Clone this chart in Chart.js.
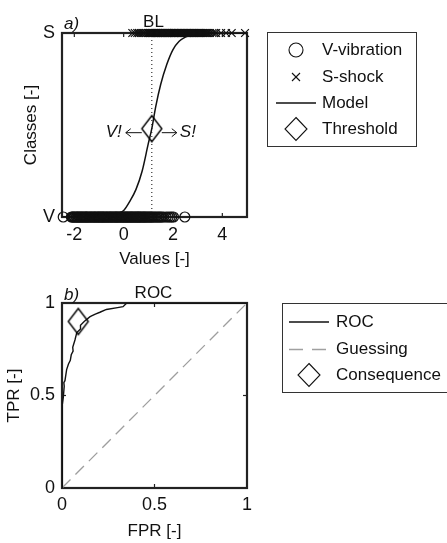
<!DOCTYPE html>
<html><head><meta charset="utf-8">
<script src="https://cdn.jsdelivr.net/npm/chart.js@4.4.1/dist/chart.umd.min.js"></script>
<style>
html,body{margin:0;padding:0;background:#fff;width:447px;height:543px;overflow:hidden}
canvas{position:absolute;left:0}
#c1{top:0}
#c2{top:275px}
</style></head><body>
<canvas id="c1" width="447" height="275"></canvas>
<canvas id="c2" width="447" height="268"></canvas>
<script>
// ---------- panel a) BL ----------
const blXTicks = [-2, 0, 2, 4];
const blYTicks = [0, 1];
const blYLabels = ['V', 'S'];
const vibrationX = [-2.45, -2.12, -2.08, -2.05, -2.01, -1.98, -1.93, -1.9, -1.87, -1.84, -1.8, -1.77, -1.73, -1.7, -1.66, -1.63, -1.59, -1.55, -1.52, -1.5, -1.46, -1.42, -1.38, -1.35, -1.31, -1.28, -1.24, -1.2, -1.17, -1.14, -1.1, -1.06, -1.03, -1.0, -0.96, -0.93, -0.9, -0.86, -0.83, -0.8, -0.76, -0.72, -0.69, -0.66, -0.62, -0.58, -0.55, -0.52, -0.48, -0.45, -0.41, -0.38, -0.34, -0.31, -0.28, -0.25, -0.21, -0.18, -0.14, -0.1, -0.07, -0.04, 0.0, 0.03, 0.07, 0.1, 0.13, 0.16, 0.2, 0.23, 0.27, 0.3, 0.33, 0.36, 0.4, 0.43, 0.47, 0.5, 0.54, 0.57, 0.6, 0.63, 0.67, 0.7, 0.74, 0.78, 0.81, 0.85, 0.88, 0.92, 0.96, 1.0, 1.04, 1.08, 1.12, 1.15, 1.2, 1.25, 1.3, 1.35, 1.4, 1.45, 1.5, 1.55, 1.62, 1.72, 1.8, 1.88, 1.95, 2.02, 2.48];
const shockX = [0.35, 0.45, 0.55, 0.62, 0.7, 0.78, 0.85, 0.92, 0.98, 1.02, 1.05, 1.08, 1.1, 1.13, 1.16, 1.19, 1.22, 1.25, 1.28, 1.31, 1.33, 1.36, 1.38, 1.41, 1.44, 1.47, 1.5, 1.53, 1.55, 1.58, 1.6, 1.63, 1.66, 1.69, 1.72, 1.75, 1.77, 1.8, 1.82, 1.85, 1.88, 1.91, 1.94, 1.97, 2.0, 2.03, 2.05, 2.08, 2.1, 2.13, 2.16, 2.19, 2.22, 2.25, 2.28, 2.31, 2.34, 2.37, 2.4, 2.43, 2.46, 2.49, 2.52, 2.55, 2.58, 2.61, 2.64, 2.67, 2.7, 2.74, 2.77, 2.8, 2.84, 2.87, 2.9, 2.94, 2.97, 3.0, 3.04, 3.07, 3.1, 3.14, 3.18, 3.22, 3.25, 3.29, 3.33, 3.38, 3.42, 3.5, 3.6, 3.68, 3.75, 3.95, 4.15, 4.38, 4.92];
const modelX = [-2.5, -1.5, -1, -0.5, -0.25, 0, 0.25, 0.5, 0.75, 1, 1.14, 1.3, 1.5, 1.75, 2, 2.25, 2.5, 2.75, 3, 3.5, 4, 5];
const modelY = [0, 0.001, 0.003, 0.01, 0.02, 0.035, 0.085, 0.15, 0.25, 0.4, 0.48, 0.6, 0.72, 0.83, 0.91, 0.955, 0.978, 0.99, 0.995, 0.999, 1, 1];
const thresholdX = [1.14];
const thresholdY = [0.48];
const blLegend = ['V-vibration', 'S-shock', 'Model', 'Threshold'];

// ---------- panel b) ROC ----------
const rocTicks = [0, 0.5, 1];
const rocFPR = [0, 0, 0.003, 0.002, 0.007, 0.012, 0.01, 0.016, 0.025, 0.035, 0.045, 0.05, 0.06, 0.058, 0.07, 0.08, 0.1, 0.1, 0.12, 0.15, 0.16, 0.18, 0.205, 0.24, 0.3, 0.33, 0.35, 1];
const rocTPR = [0, 0.3, 0.385, 0.45, 0.49, 0.55, 0.57, 0.58, 0.64, 0.67, 0.69, 0.72, 0.74, 0.76, 0.8, 0.84, 0.86, 0.88, 0.9, 0.925, 0.93, 0.94, 0.95, 0.965, 0.975, 0.98, 1, 1];
const guessX = [0, 1];
const guessY = [0, 1];
const consequenceX = [0.088];
const consequenceY = [0.9];
const rocLegend = ['ROC', 'Guessing', 'Consequence'];

// ---------- styling helpers ----------
const FONT = "'Liberation Sans', Arial, Helvetica, sans-serif";
const INK = '#111';
Chart.defaults.font.family = FONT;
Chart.defaults.font.size = 17;
Chart.defaults.color = INK;

function makeDiamond(w, h, lw) {
  const c = document.createElement('canvas');
  c.width = w + 4; c.height = h + 4;
  const g = c.getContext('2d');
  g.strokeStyle = '#000'; g.lineWidth = lw;
  const cx = c.width / 2, cy = c.height / 2;
  g.beginPath(); g.moveTo(cx, cy - h / 2); g.lineTo(cx + w / 2, cy); g.lineTo(cx, cy + h / 2); g.lineTo(cx - w / 2, cy); g.closePath(); g.stroke();
  return c;
}
const diamondImg = makeDiamond(20, 26, 1.4);

function pts(xs, ys) { return xs.map((v, i) => ({x: v, y: ys[i]})); }

function seg(ctx, x1, y1, x2, y2) { ctx.beginPath(); ctx.moveTo(x1, y1); ctx.lineTo(x2, y2); ctx.stroke(); }

function drawSymbol(ctx, type, cx, cy) {
  ctx.save();
  ctx.strokeStyle = INK; ctx.lineWidth = 1.1;
  if (type === 'circle') { ctx.beginPath(); ctx.arc(cx, cy, 7, 0, Math.PI * 2); ctx.stroke(); }
  else if (type === 'cross') { seg(ctx, cx - 4, cy - 4, cx + 4, cy + 4); seg(ctx, cx - 4, cy + 4, cx + 4, cy - 4); }
  else if (type === 'line') { ctx.lineWidth = 1.3; seg(ctx, cx - 20, cy, cx + 20, cy); }
  else if (type === 'dash') { ctx.strokeStyle = '#a0a0a0'; ctx.lineWidth = 1.3; ctx.setLineDash([14, 9]); seg(ctx, cx - 20, cy, cx + 20, cy); }
  else if (type === 'diamond') {
    ctx.beginPath(); ctx.moveTo(cx, cy - 11.5); ctx.lineTo(cx + 11, cy); ctx.lineTo(cx, cy + 11.5); ctx.lineTo(cx - 11, cy); ctx.closePath(); ctx.stroke();
  }
  ctx.restore();
}

function drawLegend(ctx, box, symX, textX, rows) {
  ctx.save();
  ctx.fillStyle = '#fff';
  ctx.fillRect(box[0], box[1], box[2], box[3]);
  ctx.strokeStyle = '#333'; ctx.lineWidth = 1;
  ctx.strokeRect(box[0] + 0.5, box[1] + 0.5, box[2], box[3]);
  ctx.font = '17px ' + FONT; ctx.fillStyle = INK;
  ctx.textBaseline = 'middle'; ctx.textAlign = 'left';
  rows.forEach(r => { drawSymbol(ctx, r.type, symX, r.y); ctx.fillText(r.label, textX, r.y); });
  ctx.restore();
}

const framePlugin = {
  id: 'frame',
  beforeDatasetsDraw(chart, args, o) {
    const {ctx, chartArea: a, scales: {x, y}} = chart;
    ctx.save();
    ctx.strokeStyle = '#222'; ctx.lineWidth = 1.2;
    o.xt.forEach(v => { const p = x.getPixelForValue(v); seg(ctx, p, a.bottom, p, a.bottom - 4); seg(ctx, p, a.top, p, a.top + 4); });
    o.yt.forEach(v => { const p = y.getPixelForValue(v); seg(ctx, a.left, p, a.left + 4, p); seg(ctx, a.right, p, a.right - 4, p); });
    ctx.lineWidth = 2.2;
    ctx.strokeRect(a.left, a.top, a.right - a.left, a.bottom - a.top);
    ctx.restore();
  },
  afterDraw(chart, args, o) {
    const {ctx, chartArea: a} = chart;
    ctx.save();
    ctx.fillStyle = INK; ctx.textBaseline = 'alphabetic';
    ctx.font = '17px ' + FONT; ctx.textAlign = 'center';
    ctx.fillText(o.title, (a.left + a.right) / 2 - 1, o.titleBase);
    ctx.font = 'italic 17px ' + FONT; ctx.textAlign = 'left';
    ctx.fillText(o.tag, a.left + 2, o.tagBase);
    ctx.restore();
    if (o.extra) o.extra(chart);
    drawLegend(ctx, o.box, o.symX, o.textX, o.rows);
  }
};

function axisX(ticksArr, min, max, height, title, titlePad, tickPad) {
  return {
    type: 'linear', min, max,
    grid: {display: false, drawTicks: false},
    border: {display: false},
    afterBuildTicks: s => { s.ticks = ticksArr.map(v => ({value: v})); },
    afterFit: s => { s.height = height; },
    ticks: {padding: tickPad, font: {size: 18}, color: INK, maxRotation: 0, callback: v => String(v)},
    title: {display: true, text: title, font: {size: 17}, color: INK, padding: {top: 0, bottom: titlePad}}
  };
}
function axisY(ticksArr, labels, width, title, titlePad) {
  return {
    type: 'linear', min: 0, max: 1,
    grid: {display: false, drawTicks: false},
    border: {display: false},
    afterBuildTicks: s => { s.ticks = ticksArr.map(v => ({value: v})); },
    afterFit: s => { s.width = width; },
    ticks: {padding: 7, font: {size: 18}, color: INK, callback: v => labels ? labels[ticksArr.indexOf(v)] : String(v)},
    title: {display: true, text: title, font: {size: 17}, color: INK, padding: {top: titlePad, bottom: 0}}
  };
}

// ---------- chart a ----------
new Chart(document.getElementById('c1'), {
  type: 'scatter',
  data: {
    datasets: [
      {label: blLegend[0], data: vibrationX.map(v => ({x: v, y: 0})), pointStyle: 'circle', pointRadius: 5, borderWidth: 1.2, borderColor: INK, backgroundColor: 'rgba(0,0,0,0)', clip: false},
      {label: blLegend[1], data: shockX.map(v => ({x: v, y: 1})), pointStyle: 'crossRot', pointRadius: 5.5, borderWidth: 1.2, borderColor: INK, clip: false},
      {label: blLegend[3], data: pts(thresholdX, thresholdY), pointStyle: diamondImg, pointRadius: 10, clip: false},
      {label: blLegend[2], data: pts(modelX, modelY), showLine: true, pointRadius: 0, borderColor: INK, borderWidth: 1.5, cubicInterpolationMode: 'monotone'},
      {label: 'threshold line', data: [{x: thresholdX[0], y: 0}, {x: thresholdX[0], y: 1}], showLine: true, pointRadius: 0, borderColor: '#333', borderWidth: 1.2, borderDash: [1, 3]}
    ]
  },
  options: {
    responsive: false, animation: false, devicePixelRatio: 1,
    layout: {padding: {left: 0, top: 33, right: 200, bottom: 0}},
    plugins: {
      legend: {display: false}, tooltip: {enabled: false},
      frame: {
        xt: blXTicks, yt: blYTicks, title: 'BL', titleBase: 27, tag: 'a)', tagBase: 29,
        box: [267, 32, 149, 114], symX: 296, textX: 322,
        rows: [{type: 'circle', label: blLegend[0], y: 50}, {type: 'cross', label: blLegend[1], y: 77}, {type: 'line', label: blLegend[2], y: 103}, {type: 'diamond', label: blLegend[3], y: 129}],
        extra: chart => {
          const {ctx, scales: {x, y}} = chart;
          const cx = x.getPixelForValue(thresholdX[0]), cy = y.getPixelForValue(thresholdY[0]) + 4;
          ctx.save();
          ctx.strokeStyle = INK; ctx.lineWidth = 1;
          seg(ctx, cx - 10, cy, cx - 26, cy); seg(ctx, cx - 26, cy, cx - 21, cy - 4); seg(ctx, cx - 26, cy, cx - 21, cy + 4);
          seg(ctx, cx + 10, cy, cx + 25, cy); seg(ctx, cx + 25, cy, cx + 20, cy - 4); seg(ctx, cx + 25, cy, cx + 20, cy + 4);
          ctx.fillStyle = INK; ctx.font = 'italic 17px ' + FONT; ctx.textBaseline = 'middle';
          ctx.textAlign = 'right'; ctx.fillText('V!', cx - 30, cy);
          ctx.textAlign = 'left'; ctx.fillText('S!', cx + 28, cy);
          ctx.restore();
        }
      }
    },
    scales: {
      x: axisX(blXTicks, -2.5, 5, 58, 'Values [-]', 5, 7),
      y: axisY(blYTicks, blYLabels, 62, 'Classes [-]', 21)
    }
  },
  plugins: [framePlugin]
});

// ---------- chart b ----------
new Chart(document.getElementById('c2'), {
  type: 'scatter',
  data: {
    datasets: [
      {label: rocLegend[2], data: pts(consequenceX, consequenceY), pointStyle: diamondImg, pointRadius: 10, clip: false},
      {label: rocLegend[0], data: pts(rocFPR, rocTPR), showLine: true, pointRadius: 0, borderColor: INK, borderWidth: 1.4, tension: 0},
      {label: rocLegend[1], data: pts(guessX, guessY), showLine: true, pointRadius: 0, borderColor: '#9e9e9e', borderWidth: 1.3, borderDash: [12, 7]}
    ]
  },
  options: {
    responsive: false, animation: false, devicePixelRatio: 1,
    layout: {padding: {left: 0, top: 28, right: 200, bottom: 0}},
    plugins: {
      legend: {display: false}, tooltip: {enabled: false},
      frame: {
        xt: rocTicks, yt: rocTicks, title: 'ROC', titleBase: 23, tag: 'b)', tagBase: 25,
        box: [282, 28, 170, 89], symX: 309, textX: 336,
        rows: [{type: 'line', label: rocLegend[0], y: 47}, {type: 'dash', label: rocLegend[1], y: 74.5}, {type: 'diamond', label: rocLegend[2], y: 100}]
      }
    },
    scales: {
      x: axisX(rocTicks, 0, 1, 55, 'FPR [-]', 1, 6),
      y: axisY(rocTicks, null, 62, 'TPR [-]', 4)
    }
  },
  plugins: [framePlugin]
});
</script>
</body></html>
